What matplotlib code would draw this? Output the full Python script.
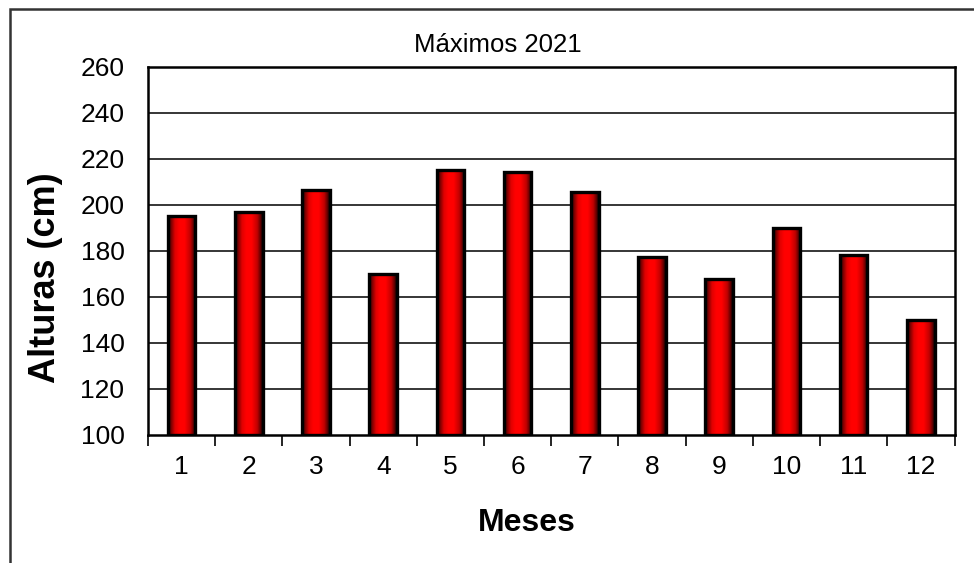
import matplotlib
matplotlib.use("Agg")
import matplotlib.pyplot as plt
import numpy as np
from matplotlib.colors import LinearSegmentedColormap
from matplotlib.patches import Rectangle

meses = ["1", "2", "3", "4", "5", "6", "7", "8", "9", "10", "11", "12"]
alturas = [195, 197, 206.5, 170, 215, 214, 205.5, 177, 167.5, 190, 178, 150]
y_ticks = [100, 120, 140, 160, 180, 200, 220, 240, 260]
titulo = "Máximos 2021"

plt.rcParams['font.family'] = ['Liberation Sans', 'DejaVu Sans']

W, H = 974, 563
fig = plt.figure(figsize=(W / 100, H / 100), dpi=100)
fig.patch.set_facecolor('white')
ax = fig.add_axes([148 / W, 1 - 434.5 / H, (954.5 - 148) / W, (434.5 - 66.7) / H])

# outer frame
frame = Rectangle((10 / W, -0.1), 2.0, 1 - 9 / H + 0.1, transform=fig.transFigure,
                  fill=False, edgecolor='#333333', linewidth=1.8, zorder=0)
fig.patches.append(frame)

x = np.arange(len(meses))
bw = 0.41
ymin, ymax = y_ticks[0], y_ticks[-1]

cmap = LinearSegmentedColormap.from_list(
    'cyl', [(0, '#000000'), (0.08, '#600000'), (0.25, '#e00000'), (0.4, '#ff0000'),
            (0.6, '#ff0000'), (0.8, '#c00000'), (0.93, '#500000'), (1, '#000000')])
grad = np.linspace(0, 1, 256).reshape(1, -1)

bars = ax.bar(x, [v - ymin for v in alturas], bottom=ymin, width=bw, facecolor='none',
              edgecolor='black', linewidth=2.4, zorder=3)
for b, v in zip(bars, alturas):
    x0 = b.get_x()
    im = ax.imshow(grad, extent=[x0, x0 + bw, ymin, v], aspect='auto', cmap=cmap,
                   zorder=2.5, interpolation='bilinear')
    im.set_clip_path(b)

ax.set_xlim(-0.5, len(meses) - 0.5)
ax.set_ylim(ymin, ymax)
ax.set_yticks(y_ticks)
ax.set_yticklabels([str(t) for t in y_ticks], fontsize=19)
ax.tick_params(axis='y', length=0, pad=17)
ax.set_xticks(x)
ax.set_xticklabels(meses, fontsize=19)
ax.set_xticks(np.arange(-0.5, len(meses), 1), minor=True)
ax.tick_params(axis='x', which='major', length=0, pad=15)
ax.tick_params(axis='x', which='minor', length=8, width=1.2, direction='out')

for t in y_ticks[1:-1]:
    ax.axhline(t, color='black', linewidth=1.1, zorder=1)
for s in ax.spines.values():
    s.set_linewidth(1.8)
    s.set_color('black')

fig.text(498 / W, 1 - 45 / H, titulo, ha='center', va='center', fontsize=18.5)
fig.text(527 / W, 1 - 523 / H, "Meses", ha='center', va='center', fontsize=23,
         fontweight='bold')
fig.text(46 / W, 1 - 278 / H, "Alturas (cm)", ha='center', va='center', fontsize=26,
         fontweight='bold', rotation=90)

fig.savefig("out.png", dpi=100, facecolor='white')
